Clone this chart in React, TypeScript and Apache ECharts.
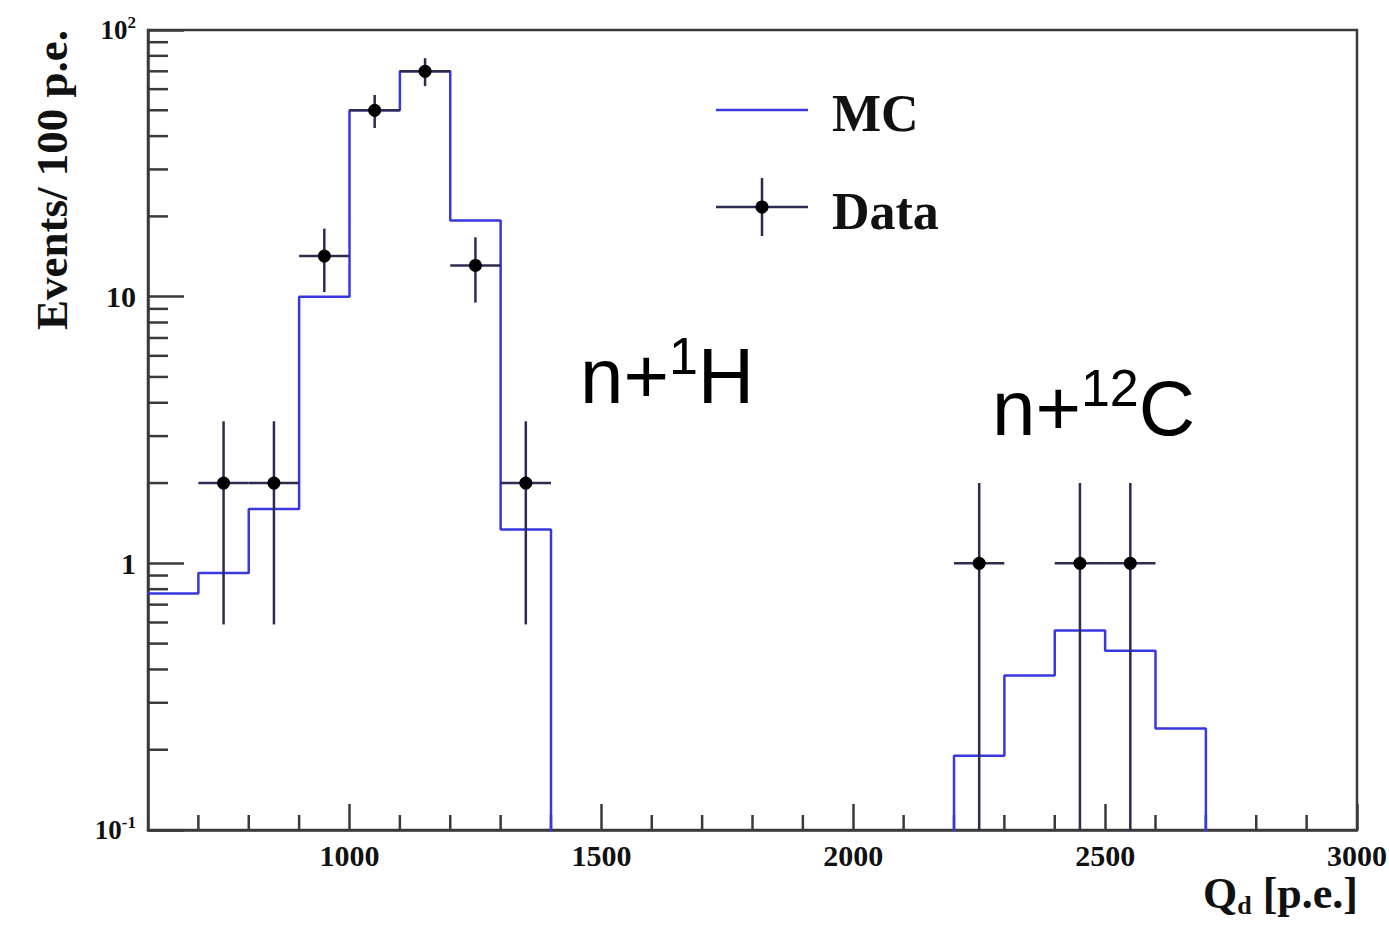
import React, { useEffect, useRef } from "react";
import * as echarts from "echarts";

// ---- Data ----
const binLowEdges = [600, 700, 800, 900, 1000, 1100, 1200, 1300, 1400, 1500, 1600, 1700, 1800, 1900, 2000, 2100, 2200, 2300, 2400, 2500, 2600, 2700];
const mcValues = [0.77, 0.92, 1.6, 10, 50, 70, 19.3, 1.34, 0, 0, 0, 0, 0, 0, 0, 0, 0.19, 0.38, 0.56, 0.47, 0.24, 0];
const binWidth = 100;

const dataX = [750, 850, 950, 1050, 1150, 1250, 1350, 2250, 2450, 2550];
const dataY = [2, 2, 14.2, 50, 70, 13.1, 2, 1, 1, 1];
const dataErrDown = [1.41, 1.41, 3.8, 7.1, 8.4, 3.6, 1.41, 1, 1, 1];
const dataErrUp = [1.41, 1.41, 3.8, 7.1, 8.4, 3.6, 1.41, 1, 1, 1];

const xMin = 600;
const xMax = 3000;
const yMin = 0.1;
const yMax = 100;
const xMajorTicks = [1000, 1500, 2000, 2500, 3000];
const xMinorTicks = [700, 800, 900, 1100, 1200, 1300, 1400, 1600, 1700, 1800, 1900, 2100, 2200, 2300, 2400, 2600, 2700, 2800, 2900];
const yMinorTicks = [0.2, 0.3, 0.4, 0.5, 0.6, 0.7, 0.8, 0.9, 2, 3, 4, 5, 6, 7, 8, 9, 20, 30, 40, 50, 60, 70, 80, 90];

const SERIF = "'Liberation Serif', 'Times New Roman', serif";
const SANS = "'Liberation Sans', Arial, Helvetica, sans-serif";
const MC_COLOR = "#3838e0";
const ERR_COLOR = "#2c2c50";
const AXIS_COLOR = "#3a3a3a";
const TEXT_COLOR = "#111111";

export default function App() {
  const ref = useRef<HTMLDivElement>(null);

  useEffect(() => {
    if (!ref.current) return;
    const chart = echarts.init(ref.current, undefined, { renderer: "svg" });

    // histogram outline points (zero bins sit below the log axis and get clipped)
    const mcPoints: number[][] = [];
    binLowEdges.forEach((lo, i) => {
      const v = mcValues[i] > 0 ? mcValues[i] : 0.001;
      mcPoints.push([lo, v]);
      mcPoints.push([lo + binWidth, v]);
    });

    const dataRows = dataX.map((x, i) => [x, dataY[i], dataErrDown[i], dataErrUp[i]]);

    const option: any = {
      animation: false,
      backgroundColor: "#ffffff",
      grid: {
        left: 148,
        right: 32,
        top: 30,
        bottom: 101,
        show: true,
        borderColor: AXIS_COLOR,
        borderWidth: 2.5,
        backgroundColor: "transparent",
        containLabel: false,
        outerBoundsMode: "none",
      },
      xAxis: {
        type: "value",
        min: xMin,
        max: xMax,
        splitLine: { show: false },
        axisLine: { show: true, onZero: false, lineStyle: { color: AXIS_COLOR, width: 2.5 } },
        axisTick: {
          show: true,
          inside: true,
          length: 26,
          customValues: xMajorTicks,
          lineStyle: { color: AXIS_COLOR, width: 2.5 },
        },
        axisLabel: {
          show: true,
          customValues: xMajorTicks,
          formatter: (v: number) => String(Math.round(v)),
          margin: 10,
          color: TEXT_COLOR,
          fontFamily: SERIF,
          fontWeight: "bold",
          fontSize: 30,
        },
      },
      yAxis: {
        type: "log",
        logBase: 10,
        min: yMin,
        max: yMax,
        splitLine: { show: false },
        axisLine: { show: true, lineStyle: { color: AXIS_COLOR, width: 2.5 } },
        axisTick: { show: true, inside: true, length: 36, lineStyle: { color: AXIS_COLOR, width: 2.5 } },
        axisLabel: {
          show: true,
          margin: 12,
          formatter: (v: number) => {
            const e = Math.round(Math.log10(v));
            if (e === 0) return "{n|1}";
            if (e === 1) return "{n|10}";
            return `{b|10}{s|${e}}`;
          },
          rich: {
            n: { fontFamily: SERIF, fontWeight: "bold", fontSize: 30, color: TEXT_COLOR },
            b: { fontFamily: SERIF, fontWeight: "bold", fontSize: 27, color: TEXT_COLOR },
            s: { fontFamily: SERIF, fontWeight: "bold", fontSize: 17, color: TEXT_COLOR, padding: [0, 0, 16, 0] },
          },
        },
      },
      series: [
        {
          type: "custom",
          name: "yMinorTicks",
          silent: true,
          clip: false,
          data: yMinorTicks.map((v) => [xMin, v]),
          encode: { x: 0, y: 1 },
          renderItem: (params: any, api: any) => {
            const p = api.coord([api.value(0), api.value(1)]);
            return {
              type: "line",
              shape: { x1: p[0], y1: p[1], x2: p[0] + 20, y2: p[1] },
              style: { stroke: AXIS_COLOR, lineWidth: 2.5 },
            };
          },
        },
        {
          type: "custom",
          name: "xMinorTicks",
          silent: true,
          clip: false,
          data: xMinorTicks.map((v) => [v, yMin]),
          encode: { x: 0, y: 1 },
          renderItem: (params: any, api: any) => {
            const p = api.coord([api.value(0), api.value(1)]);
            return {
              type: "line",
              shape: { x1: p[0], y1: p[1], x2: p[0], y2: p[1] - 15 },
              style: { stroke: AXIS_COLOR, lineWidth: 2.5 },
            };
          },
        },
        {
          type: "line",
          name: "MC",
          data: mcPoints,
          showSymbol: false,
          symbol: "none",
          clip: true,
          lineStyle: { color: MC_COLOR, width: 2.5 },
          z: 3,
        },
        {
          type: "custom",
          name: "Data",
          clip: true,
          data: dataRows,
          encode: { x: 0, y: 1 },
          z: 4,
          renderItem: (params: any, api: any) => {
            const x = api.value(0);
            const y = api.value(1);
            const dn = api.value(2);
            const up = api.value(3);
            const c = api.coord([x, y]);
            const l = api.coord([x - binWidth / 2, y]);
            const r = api.coord([x + binWidth / 2, y]);
            const t = api.coord([x, y + up]);
            const low = y - dn;
            const bottom = low > yMin ? api.coord([x, low])[1] : params.coordSys.y + params.coordSys.height;
            const st = { stroke: ERR_COLOR, lineWidth: 2.5 };
            return {
              type: "group",
              children: [
                { type: "line", shape: { x1: l[0], y1: l[1], x2: r[0], y2: r[1] }, style: st },
                { type: "line", shape: { x1: c[0], y1: t[1], x2: c[0], y2: bottom }, style: st },
                { type: "circle", shape: { cx: c[0], cy: c[1], r: 6.5 }, style: { fill: "#000000" } },
              ],
            };
          },
        },
      ],
      graphic: [
        // axis titles
        {
          type: "text",
          x: 52,
          y: 180,
          rotation: Math.PI / 2,
          style: {
            text: "Events/ 100 p.e.",
            font: `bold 45px ${SERIF}`,
            fill: TEXT_COLOR,
            align: "center",
            verticalAlign: "middle",
            textAlign: "center",
            textVerticalAlign: "middle",
          },
        },
        {
          type: "text",
          x: 1358,
          y: 893,
          style: {
            text: "{q|Q}{d|d}{q| [p.e.]}",
            fill: TEXT_COLOR,
            align: "right",
            verticalAlign: "middle",
            textAlign: "right",
            textVerticalAlign: "middle",
            rich: {
              q: { fontFamily: SERIF, fontWeight: "bold", fontSize: 44, fill: TEXT_COLOR },
              d: { fontFamily: SERIF, fontWeight: "bold", fontSize: 26, fill: TEXT_COLOR, padding: [24, 0, 0, 0] },
            },
          },
        },
        // legend
        {
          type: "line",
          shape: { x1: 716, y1: 110, x2: 808, y2: 110 },
          style: { stroke: MC_COLOR, lineWidth: 2.5 },
        },
        {
          type: "text",
          x: 832,
          y: 113,
          style: {
            text: "MC",
            font: `bold 52px ${SERIF}`,
            fill: TEXT_COLOR,
            align: "left",
            verticalAlign: "middle",
            textAlign: "left",
            textVerticalAlign: "middle",
          },
        },
        {
          type: "line",
          shape: { x1: 716, y1: 207, x2: 808, y2: 207 },
          style: { stroke: ERR_COLOR, lineWidth: 2.5 },
        },
        {
          type: "line",
          shape: { x1: 762, y1: 178, x2: 762, y2: 236 },
          style: { stroke: ERR_COLOR, lineWidth: 2.5 },
        },
        {
          type: "circle",
          shape: { cx: 762, cy: 207, r: 6.5 },
          style: { fill: "#000000" },
        },
        {
          type: "text",
          x: 832,
          y: 211,
          style: {
            text: "Data",
            font: `bold 52px ${SERIF}`,
            fill: TEXT_COLOR,
            align: "left",
            verticalAlign: "middle",
            textAlign: "left",
            textVerticalAlign: "middle",
          },
        },
        // annotations
        {
          type: "text",
          x: 580,
          y: 376,
          style: {
            text: "{m|n+}{s|1}{m|H}",
            fill: "#000000",
            align: "left",
            verticalAlign: "middle",
            textAlign: "left",
            textVerticalAlign: "middle",
            rich: {
              m: { fontFamily: SANS, fontSize: 78, fill: "#000000" },
              s: { fontFamily: SANS, fontSize: 52, fill: "#000000", padding: [0, 0, 40, 0] },
            },
          },
        },
        {
          type: "text",
          x: 992,
          y: 408,
          style: {
            text: "{m|n+}{s|12}{m|C}",
            fill: "#000000",
            align: "left",
            verticalAlign: "middle",
            textAlign: "left",
            textVerticalAlign: "middle",
            rich: {
              m: { fontFamily: SANS, fontSize: 78, fill: "#000000" },
              s: { fontFamily: SANS, fontSize: 52, fill: "#000000", padding: [0, 0, 40, 0] },
            },
          },
        },
      ],
    };

    chart.setOption(option);
    return () => {
      chart.dispose();
    };
  }, []);

  return (
    <div
      ref={ref}
      style={{ position: "absolute", left: 0, top: 0, width: 1389, height: 931, background: "#ffffff" }}
    />
  );
}
